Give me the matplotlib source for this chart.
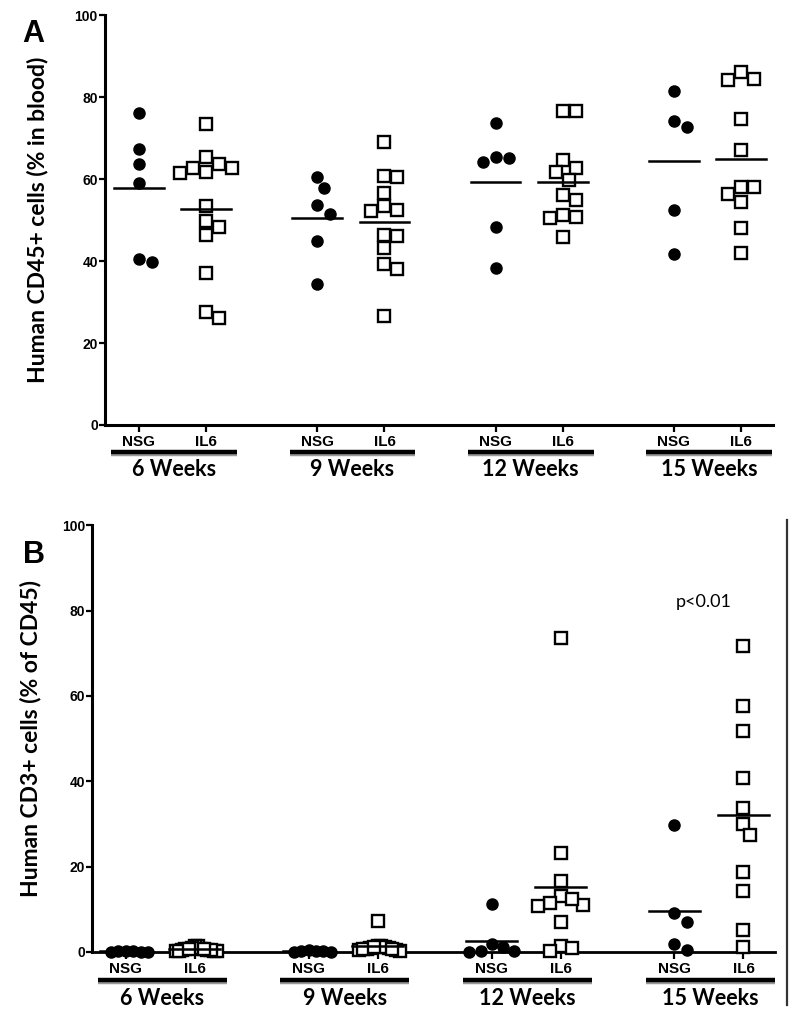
import numpy as np
import matplotlib
matplotlib.use('Agg')
import matplotlib.pyplot as plt
from matplotlib.lines import Line2D

weeks = ['6 Weeks', '9 Weeks', '12 Weeks', '15 Weeks']
strains = ['NSG', 'IL6']

# panel A: human CD45+ cells (% in blood)
cd45_nsg_6 = [76.2, 67.4, 63.7, 59.1, 39.8, 40.4]
cd45_il6_6 = [73.3, 65.3, 63.7, 62.6, 61.4, 61.7, 62.8, 53.3, 49.7, 48.4, 46.4, 37.0, 26.0, 27.6]
cd45_nsg_9 = [60.6, 57.7, 53.7, 51.5, 45.0, 34.3]
cd45_il6_9 = [69.1, 60.7, 60.6, 56.7, 52.4, 52.3, 53.5, 46.3, 46.1, 43.2, 39.3, 38.1, 26.6]
cd45_nsg_12 = [73.7, 65.4, 64.1, 65.2, 48.4, 38.4]
cd45_il6_12 = [76.7, 76.7, 64.6, 61.7, 62.8, 59.8, 54.9, 56.1, 50.8, 50.4, 51.2, 45.9]
cd45_nsg_15 = [81.5, 74.2, 72.6, 52.4, 41.7]
cd45_il6_15 = [86.2, 84.1, 84.3, 74.6, 67.1, 58.1, 58.0, 56.3, 54.3, 48.1, 41.9]

# panel B: human CD3+ cells (% of CD45)
cd3_nsg_6 = [0.1, 0.2, 0.1, 0.3, 0.2, 0.1]
cd3_il6_6 = [0.2, 0.4, 0.3, 0.6, 1.4, 1.5, 0.5, 0.8, 0.3, 0.2, 0.9, 0.4, 0.6, 0.7]
cd3_nsg_9 = [0.1, 0.3, 0.2, 0.5, 0.2, 0.1]
cd3_il6_9 = [7.2, 0.5, 1.0, 1.3, 0.8, 0.4, 1.5, 0.9, 0.6, 1.1, 0.3, 0.7, 1.2]
cd3_nsg_12 = [11.2, 1.9, 1.2, 0.2, 0.1, 0.3]
cd3_il6_12 = [73.5, 23.3, 16.6, 13.1, 11.4, 10.8, 11.0, 12.5, 7.0, 1.4, 0.3, 0.9]
cd3_nsg_15 = [29.7, 9.2, 7.0, 1.9, 0.5]
cd3_il6_15 = [71.7, 57.6, 51.8, 40.8, 33.8, 29.9, 27.4, 18.8, 14.3, 5.2, 1.1]

groups_a = [cd45_nsg_6, cd45_il6_6, cd45_nsg_9, cd45_il6_9,
            cd45_nsg_12, cd45_il6_12, cd45_nsg_15, cd45_il6_15]
groups_b = [cd3_nsg_6, cd3_il6_6, cd3_nsg_9, cd3_il6_9,
            cd3_nsg_12, cd3_il6_12, cd3_nsg_15, cd3_il6_15]

positions = [0, 1, 2.65, 3.65, 5.3, 6.3, 7.95, 8.95]

LABEL_FONT = ['Lato', 'DejaVu Sans']
TICK_FONT = ['Liberation Sans', 'DejaVu Sans']


def swarm_offsets(vals, ypx, xpx, dia=13.0, maxw=0.42):
    # simple beeswarm in pixel space, like the column scatter of Prism
    vals = np.asarray(vals, float)
    order = np.argsort(-vals)
    placed = []
    offs = np.zeros(len(vals))
    step = dia / 2
    for i in order:
        y = vals[i] * ypx
        k = 0
        found = None
        while found is None:
            cands = [0.0] if k == 0 else [k * step, -k * step]
            for c in cands:
                if all((c - px) ** 2 + (y - py) ** 2 >= 0.9 * dia ** 2 for px, py in placed):
                    found = c
                    break
            k += 1
        placed.append((found, y))
        offs[i] = found
    offs = offs / xpx
    m = np.abs(offs).max()
    if m > maxw:
        offs *= maxw / m
    return offs


def draw_panel(ax, groups, ypx, xpx, maxw, ylabel, label_x):
    for i, vals in enumerate(groups):
        x0 = positions[i]
        offs = swarm_offsets(vals, ypx, xpx, maxw=maxw)
        if i % 2 == 0:
            ax.plot(x0 + offs, vals, 'o', ms=8, color='black', clip_on=False, zorder=3)
        else:
            ax.plot(x0 + offs, vals, 's', ms=8, mfc='white', mec='black', mew=1.7,
                    clip_on=False, zorder=3)
        m = np.mean(vals)
        ax.plot([x0 - 0.37, x0 + 0.37], [m, m], color='black', lw=1.8, zorder=4)

    ax.set_ylim(0, 100)
    ax.set_yticks([0, 20, 40, 60, 80, 100])
    for s in ['top', 'right']:
        ax.spines[s].set_visible(False)
    ax.spines['left'].set_linewidth(2.2)
    ax.spines['bottom'].set_linewidth(2.2)
    ax.tick_params(axis='y', length=4, width=1.6, pad=1, labelsize=10)
    ax.tick_params(axis='x', length=5, width=1.6, pad=2, labelsize=11)
    for t in ax.get_yticklabels():
        t.set_fontweight('bold')
        t.set_family(TICK_FONT)
    ax.set_xticks(positions)
    ax.set_xticklabels(strains * 4, fontweight='bold', family=TICK_FONT)
    ax.set_ylabel(ylabel, fontsize=16.5, family=LABEL_FONT, fontweight='bold')
    ax.yaxis.set_label_coords(label_x, 0.5)

    trans = ax.get_xaxis_transform()
    for w in range(4):
        a, b = positions[2 * w], positions[2 * w + 1]
        ax.plot([a - 0.41, b + 0.46], [-0.070, -0.070], transform=trans, color='#9a9a9a',
                lw=3.2, clip_on=False, solid_capstyle='butt')
        ax.plot([a - 0.41, b + 0.46], [-0.066, -0.066], transform=trans, color='black',
                lw=3.2, clip_on=False, solid_capstyle='butt')
        ax.text((a + b) / 2 + 0.02, -0.108, weeks[w], transform=trans, ha='center', va='center',
                fontsize=15.5, fontweight='bold', family=LABEL_FONT)


fig = plt.figure(figsize=(8, 10.16), dpi=100)

ax_a = fig.add_axes([0.131, 0.5817, 0.835, 0.4035])
ax_a.set_xlim(-0.505, 9.42)
draw_panel(ax_a, groups_a, 4.1, 67.3, 0.42, 'Human CD45+ cells (% in blood)', -0.085)

ax_b = fig.add_axes([0.115, 0.063, 0.854, 0.42])
ax_b.set_xlim(-0.49, 9.41)
draw_panel(ax_b, groups_b, 4.27, 69.0, 0.32, 'Human CD3+ cells (% of CD45)', -0.074)
ax_b.spines['bottom'].set_linewidth(2.0)

ax_b.text(positions[6] + 0.43, 82, 'p<0.01', ha='center', va='center', fontsize=13,
          family=LABEL_FONT)

fig.text(0.042, 0.967, 'A', fontsize=22, fontweight='bold', ha='center', va='center',
         family=TICK_FONT)
fig.text(0.042, 0.454, 'B', fontsize=22, fontweight='bold', ha='center', va='center',
         family=TICK_FONT)

# vertical rule at the right of panel B
fig.add_artist(Line2D([787 / 800, 787 / 800], [1 - 520 / 1016, 1 - 1005 / 1016],
                      color='#333333', lw=1.6))

fig.savefig('out.png', dpi=100)
